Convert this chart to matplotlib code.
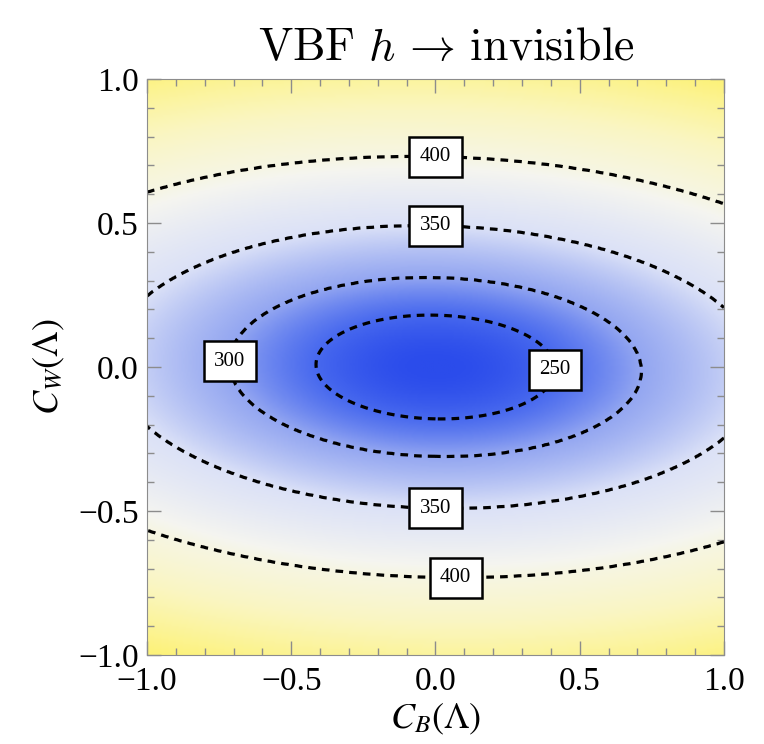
import numpy as np
import matplotlib
matplotlib.use('Agg')
import matplotlib.pyplot as plt
from matplotlib.colors import LinearSegmentedColormap
from matplotlib.ticker import MultipleLocator

plt.rcParams['font.family'] = ['Liberation Serif', 'DejaVu Serif']

# contour levels and their half-height along C_W at C_B = 0
levels = [250, 300, 350, 400]
half_height = [0.18, 0.31, 0.49, 0.73]
center_value = 222      # value at the minimum
edge_radius = 1.1       # elliptical radius of the corners
edge_value = 465        # value in the corners
aspect = 2.3            # C_B / C_W axis ratio of the ellipses
tilt = 0.02             # slight shear of the ellipses

# colour stops of the density shading
cmap_values = [222, 250, 300, 350, 390, 425, 465]
cmap_colors = ['#2b4ceb', '#4869ee', '#93a6f1', '#dbe1f7', '#f5f5f0', '#faf6c2', '#fdf27a']

# label positions (C_B, C_W)
label_pos = [(0.0, 0.73), (0.0, 0.49), (-0.72, 0.02), (0.41, -0.01), (0.0, -0.49), (0.07, -0.73)]

# field built from the measured contour radii
x = np.linspace(-1, 1, 401)
X, Y = np.meshgrid(x, x)
rho2 = (X / aspect) ** 2 + (Y + tilt * X) ** 2
r2_nodes = np.array([0] + half_height + [edge_radius]) ** 2
Z = np.interp(rho2, r2_nodes, [center_value] + levels + [edge_value])

vmin, vmax = cmap_values[0], cmap_values[-1]
stops = [(v - vmin) / (vmax - vmin) for v in cmap_values]
cmap = LinearSegmentedColormap.from_list('bw_y', list(zip(stops, cmap_colors)))

fig = plt.figure(figsize=(7.64, 7.44), dpi=100)
ax = fig.add_axes([0.1924, 0.1196, 0.7552, 0.7742])

ax.imshow(Z, extent=(-1, 1, -1, 1), origin='lower', cmap=cmap, vmin=vmin, vmax=vmax,
          interpolation='bilinear', aspect='auto')
cs = ax.contour(X, Y, Z, levels=levels, colors='k', linewidths=2.3,
                linestyles=[(0, (2.4, 1.9))])
labels = ax.clabel(cs, inline=False, fmt='%d', manual=label_pos, fontsize=15)
for t in labels:
    t.set_rotation(0)
    t.set_bbox(dict(boxstyle='square,pad=0.5', facecolor='white', edgecolor='black', linewidth=1.8))
    t.set_zorder(5)

ax.set_xlim(-1, 1)
ax.set_ylim(-1, 1)
ax.xaxis.set_major_locator(MultipleLocator(0.5))
ax.yaxis.set_major_locator(MultipleLocator(0.5))
ax.xaxis.set_minor_locator(MultipleLocator(0.1))
ax.yaxis.set_minor_locator(MultipleLocator(0.1))
ax.xaxis.set_major_formatter(lambda v, p: f'{v:.1f}'.replace('-', '\u2212'))
ax.yaxis.set_major_formatter(lambda v, p: f'{v:.1f}'.replace('-', '\u2212'))
ax.tick_params(which='both', direction='in', top=True, right=True, color='#8c8c8c')
ax.tick_params(which='major', length=10, width=1, labelsize=24)
ax.tick_params(which='minor', length=5, width=1)
ax.tick_params(axis='x', pad=8)
ax.tick_params(axis='y', pad=6)
for s in ax.spines.values():
    s.set_color('#8c8c8c')

ax.set_xlabel(r'$C_B(\Lambda)$', fontsize=26, math_fontfamily='stix', labelpad=4)
ax.set_ylabel(r'$C_W(\Lambda)$', fontsize=26, math_fontfamily='stix', labelpad=8)
ax.set_title(r'$\mathrm{VBF}\ h\,\rightarrow\,\mathrm{invisible}$', fontsize=33,
             math_fontfamily='cm', pad=14, x=0.518)

fig.savefig('out.png', dpi=100)
